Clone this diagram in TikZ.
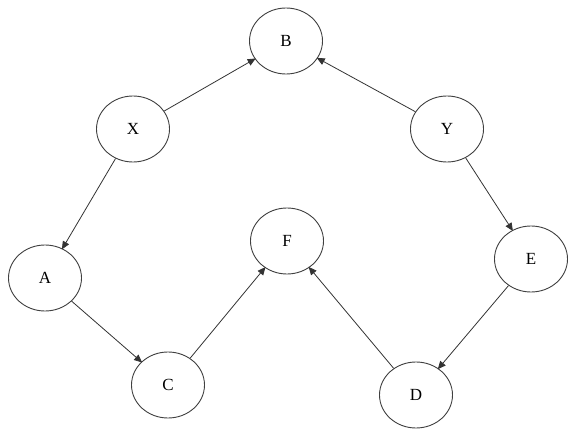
\documentclass[tikz,border=0pt]{standalone}
\usepackage{fontspec}
\setmainfont{Liberation Serif}
\usetikzlibrary{shapes.geometric,arrows.meta}
\begin{document}
\begin{tikzpicture}[x=1pt,y=-1pt,
  vtx/.style={ellipse,draw=black!75,line width=0.9pt,minimum width=73pt,minimum height=66pt,inner sep=0pt,font=\fontsize{17}{19}\selectfont},
  arr/.style={draw=black!80,line width=0.8pt,-{Triangle[length=8pt,width=7pt]},shorten >=-1pt}]
\useasboundingbox (0,0) rectangle (578,438);
\node[vtx] (B) at (286,41) {B};
\node[vtx] (X) at (133,129) {X};
\node[vtx] (Y) at (447,129) {Y};
\node[vtx] (A) at (45,278) {A};
\node[vtx] (F) at (287,241) {F};
\node[vtx] (E) at (531,259) {E};
\node[vtx] (C) at (168,385) {C};
\node[vtx] (D) at (416,395) {D};
\draw[arr] (X) -- (B);
\draw[arr] (Y) -- (B);
\draw[arr] (X) -- (A);
\draw[arr] (Y) -- (E);
\draw[arr] (A) -- (C);
\draw[arr] (C) -- (F);
\draw[arr] (D) -- (F);
\draw[arr] (E) -- (D);
\end{tikzpicture}
\end{document}
